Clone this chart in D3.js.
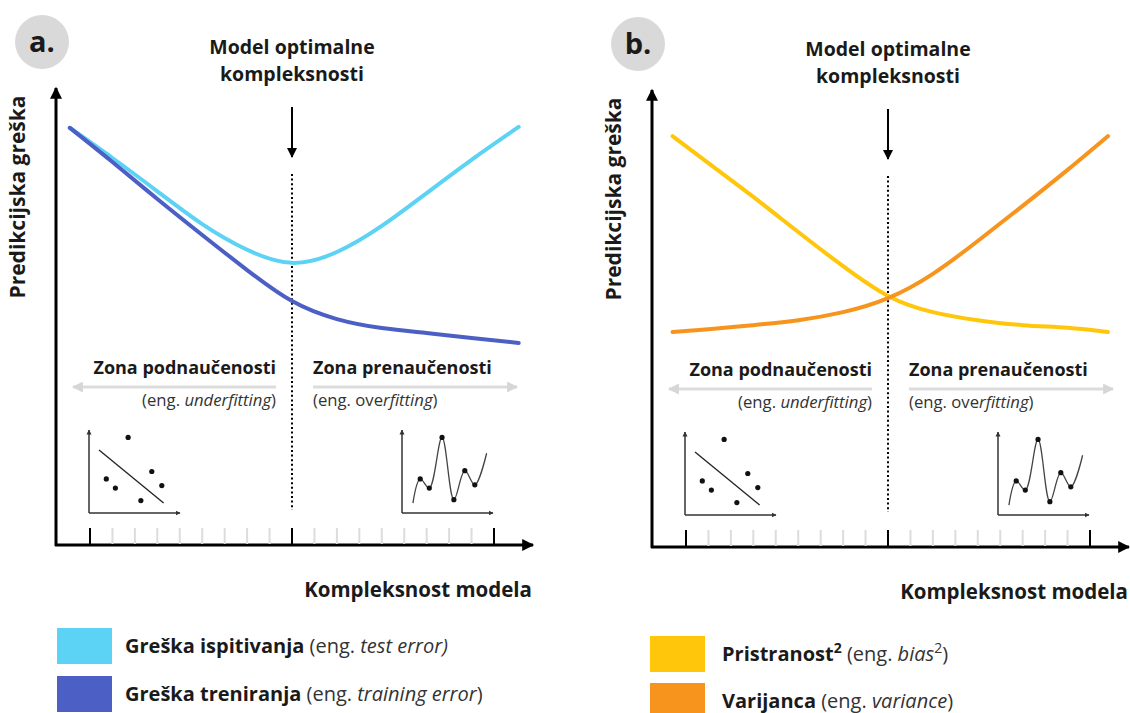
<!DOCTYPE html>
<html>
<head>
<meta charset="utf-8">
<script src="https://cdn.jsdelivr.net/npm/d3@7"></script>
<style>
  body { margin: 0; background: #fff; }
  text { font-family: "Open Sans", "Noto Sans", sans-serif; fill: #1a1a1a; }
</style>
</head>
<body>
<script>
var width = 1130,
    height = 713;

// complexity positions (tick units) where the curves were sampled
var ticks = d3.range(0, 19);
var majorTicks = [0, 9, 18];
var xsA = [-0.9, 1, 3, 5, 7, 9, 11, 13, 15, 17, 19.1];
var testError  = [92.7, 86.0, 78.6, 71.3, 65.6, 62.7, 65.1, 70.9, 78.2, 85.6, 92.9];
var trainError = [92.7, 85.1, 76.9, 68.9, 61.1, 54.2, 50.2, 48.2, 47.1, 46.0, 44.9];
var xsB = [-0.6, 1, 3, 5, 7, 9, 11, 13, 15, 17, 18.8];
var bias     = [91.3, 85.3, 77.8, 70.0, 62.4, 55.8, 52.2, 50.4, 49.3, 48.7, 47.8];
var variance = [47.8, 48.4, 49.3, 50.4, 52.2, 55.3, 60.7, 68.0, 75.8, 83.8, 91.3];

// little sketches (0..10 units)
var underDotsX = [4.3, 1.9, 2.9, 5.7, 6.9, 8.0];
var underDotsY = [9.1, 4.1, 3.0, 1.5, 5.0, 3.3];
var underLineX = [1.1, 8.2];
var underLineY = [7.6, 1.2];
var overX = [1.2, 2.0, 3.0, 4.4, 5.7, 6.9, 8.0, 9.3];
var overY = [1.2, 4.1, 3.0, 9.1, 1.6, 5.1, 3.4, 7.2];

var svg = d3.select('body').append('svg')
    .attr('width', width)
    .attr('height', height);

var defs = svg.append('defs');
function marker(id, color, w, h) {
    defs.append('marker')
	.attr('id', id)
	.attr('viewBox', '0 0 10 10')
	.attr('refX', 9).attr('refY', 5)
	.attr('markerUnits', 'userSpaceOnUse')
	.attr('markerWidth', w).attr('markerHeight', h)
	.attr('orient', 'auto')
	.append('path')
	.attr('d', 'M0,0L10,5L0,10z')
	.attr('fill', color);
}
marker('ax', '#000', 13, 12);
marker('down', '#000', 10, 11);
marker('grey', '#d6d6d6', 11, 11);
marker('mini', '#333', 5, 6);

function drawPanel(dx, dy, letter, xs, series, colors) {
    var g = svg.append('g').attr('transform', 'translate(' + dx + ',' + dy + ')');
    var x = d3.scaleLinear().domain([0, 18]).range([90, 494]);
    var y = d3.scaleLinear().domain([0, 100]).range([545, 95]);

    // letter badge
    g.append('circle').attr('cx', 42).attr('cy', 42).attr('r', 27).attr('fill', '#d9d9d9');
    g.append('text').attr('x', 42).attr('y', 52)
	.attr('text-anchor', 'middle')
	.style('font-size', '29px').style('font-weight', 700)
	.text(letter);

    // header + arrow
    var hx = x(9);
    g.append('text').attr('x', hx).attr('y', 54).attr('text-anchor', 'middle')
	.style('font-size', '19.5px').style('font-weight', 700).text('Model optimalne');
    g.append('text').attr('x', hx).attr('y', 81).attr('text-anchor', 'middle')
	.style('font-size', '19.5px').style('font-weight', 700).text('kompleksnosti');
    g.append('line').attr('x1', hx).attr('x2', hx).attr('y1', 107).attr('y2', 157)
	.attr('stroke', '#000').attr('stroke-width', 2).attr('marker-end', 'url(#down)');
    g.append('line').attr('x1', hx).attr('x2', hx).attr('y1', 174).attr('y2', 510)
	.attr('stroke', '#000').attr('stroke-width', 2).attr('stroke-dasharray', '2,2.6');

    // axes
    g.append('line').attr('x1', 56).attr('x2', 56).attr('y1', 546).attr('y2', 88)
	.attr('stroke', '#000').attr('stroke-width', 3).attr('marker-end', 'url(#ax)');
    g.append('line').attr('x1', 55).attr('x2', 533).attr('y1', 545).attr('y2', 545)
	.attr('stroke', '#000').attr('stroke-width', 3).attr('marker-end', 'url(#ax)');

    g.selectAll('line.tick').data(ticks).enter().append('line')
	.attr('class', 'tick')
	.attr('x1', function(d) { return x(d); })
	.attr('x2', function(d) { return x(d); })
	.attr('y1', 528).attr('y2', 544)
	.attr('stroke', function(d) { return majorTicks.indexOf(d) >= 0 ? '#000' : '#dcdcdc'; })
	.attr('stroke-width', 2);

    g.append('text').attr('transform', 'translate(25,197) rotate(-90)')
	.attr('text-anchor', 'middle')
	.style('font-size', '21px').style('font-weight', 700)
	.text('Predikcijska greška');
    g.append('text').attr('x', 532).attr('y', 597).attr('text-anchor', 'end')
	.style('font-size', '20.5px').style('font-weight', 700)
	.text('Kompleksnost modela');

    // zones
    g.append('text').attr('x', 276).attr('y', 374).attr('text-anchor', 'end')
	.style('font-size', '18px').style('font-weight', 700).text('Zona podnaučenosti');
    g.append('text').attr('x', 313).attr('y', 374)
	.style('font-size', '18px').style('font-weight', 700).text('Zona prenaučenosti');
    g.append('line').attr('x1', 276).attr('x2', 73).attr('y1', 387).attr('y2', 387)
	.attr('stroke', '#dcdcdc').attr('stroke-width', 3).attr('marker-end', 'url(#grey)');
    g.append('line').attr('x1', 313).attr('x2', 517).attr('y1', 387).attr('y2', 387)
	.attr('stroke', '#dcdcdc').attr('stroke-width', 3).attr('marker-end', 'url(#grey)');

    var t1 = g.append('text').attr('x', 276).attr('y', 406).attr('text-anchor', 'end')
	.style('font-size', '16.7px');
    t1.append('tspan').style('fill', '#333').text('(eng. ');
    t1.append('tspan').style('fill', '#333').style('font-style', 'italic').text('underfitting');
    t1.append('tspan').style('fill', '#333').text(')');
    var t2 = g.append('text').attr('x', 313).attr('y', 406).style('font-size', '16.7px');
    t2.append('tspan').style('fill', '#333').text('(eng. ove');
    t2.append('tspan').style('fill', '#333').style('font-style', 'italic').text('rfitting');
    t2.append('tspan').style('fill', '#333').text(')');

    // underfitting sketch
    var ux = d3.scaleLinear().domain([0, 10]).range([89, 180]);
    var uy = d3.scaleLinear().domain([0, 10]).range([513, 430]);
    g.append('line').attr('x1', ux(0)).attr('x2', ux(10)).attr('y1', uy(0)).attr('y2', uy(0))
	.attr('stroke', '#333').attr('stroke-width', 1.5).attr('marker-end', 'url(#mini)');
    g.append('line').attr('x1', ux(0)).attr('x2', ux(0)).attr('y1', uy(0)).attr('y2', uy(10))
	.attr('stroke', '#333').attr('stroke-width', 1.5).attr('marker-end', 'url(#mini)');
    g.append('line').attr('x1', ux(underLineX[0])).attr('x2', ux(underLineX[1]))
	.attr('y1', uy(underLineY[0])).attr('y2', uy(underLineY[1]))
	.attr('stroke', '#222').attr('stroke-width', 1.3);
    g.selectAll('circle.ud').data(underDotsX).enter().append('circle')
	.attr('class', 'ud')
	.attr('cx', function(d) { return ux(d); })
	.attr('cy', function(d, i) { return uy(underDotsY[i]); })
	.attr('r', 2.6).attr('fill', '#111');

    // overfitting sketch
    var ox = d3.scaleLinear().domain([0, 10]).range([402, 493]);
    g.append('line').attr('x1', ox(0)).attr('x2', ox(10)).attr('y1', uy(0)).attr('y2', uy(0))
	.attr('stroke', '#333').attr('stroke-width', 1.5).attr('marker-end', 'url(#mini)');
    g.append('line').attr('x1', ox(0)).attr('x2', ox(0)).attr('y1', uy(0)).attr('y2', uy(10))
	.attr('stroke', '#333').attr('stroke-width', 1.5).attr('marker-end', 'url(#mini)');
    var overPts = overX.map(function(d, i) { return [ox(d), uy(overY[i])]; });
    g.append('path').attr('d', d3.line().curve(d3.curveCatmullRom.alpha(0.5))(overPts))
	.attr('fill', 'none').attr('stroke', '#444').attr('stroke-width', 1.3);
    g.selectAll('circle.od').data(overPts.slice(1, -1)).enter().append('circle')
	.attr('class', 'od')
	.attr('cx', function(d) { return d[0]; })
	.attr('cy', function(d) { return d[1]; })
	.attr('r', 2.6).attr('fill', '#111');

    // curves
    var line = d3.line()
	.x(function(d) { return x(d[0]); })
	.y(function(d) { return y(d[1]); })
	.curve(d3.curveNatural);
    series.forEach(function(s, k) {
	g.append('path')
	    .attr('d', line(xs.map(function(v, i) { return [v, s[i]]; })))
	    .attr('fill', 'none')
	    .attr('stroke', colors[k])
	    .attr('stroke-width', 4)
	    .attr('stroke-linecap', 'round');
    });
    return g;
}

var blue = '#5cd3f5', navy = '#4b5fc4', yellow = '#ffc60b', orange = '#f7941d';
drawPanel(0, 0, 'a.', xsA, [testError, trainError], [blue, navy]);
drawPanel(596, 2, 'b.', xsB, [bias, variance], [yellow, orange]);

/* legends */
function legendItem(x, y, color, tx, parts) {
    svg.append('rect').attr('x', x).attr('y', y).attr('width', 55).attr('height', 36).attr('fill', color);
    var t = svg.append('text').attr('x', tx).attr('y', y + 25).style('font-size', '20px');
    parts.forEach(function(p) {
	var s = t.append('tspan').text(p.t);
	if (p.b) s.style('font-weight', 700);
	if (p.i) s.style('font-style', 'italic');
	if (p.sup) s.attr('dy', -8).style('font-size', '14px');
	if (p.down) s.attr('dy', 8);
	if (!p.b) s.style('fill', '#333');
    });
}
legendItem(57, 628, blue, 125, [{t: 'Greška ispitivanja', b: 1}, {t: ' (eng. '}, {t: 'test error)', i: 1}]);
legendItem(57, 676, navy, 125, [{t: 'Greška treniranja', b: 1}, {t: ' (eng. '}, {t: 'training error', i: 1}, {t: ')'}]);
legendItem(650, 636, yellow, 722, [{t: 'Pristranost', b: 1}, {t: '2', b: 1, sup: 1}, {t: ' (eng. ', down: 1}, {t: 'bias', i: 1}, {t: '2', sup: 1}, {t: ')', down: 1}]);
legendItem(650, 683, orange, 722, [{t: 'Varijanca', b: 1}, {t: ' (eng. '}, {t: 'variance', i: 1}, {t: ')'}]);
</script>
</body>
</html>
